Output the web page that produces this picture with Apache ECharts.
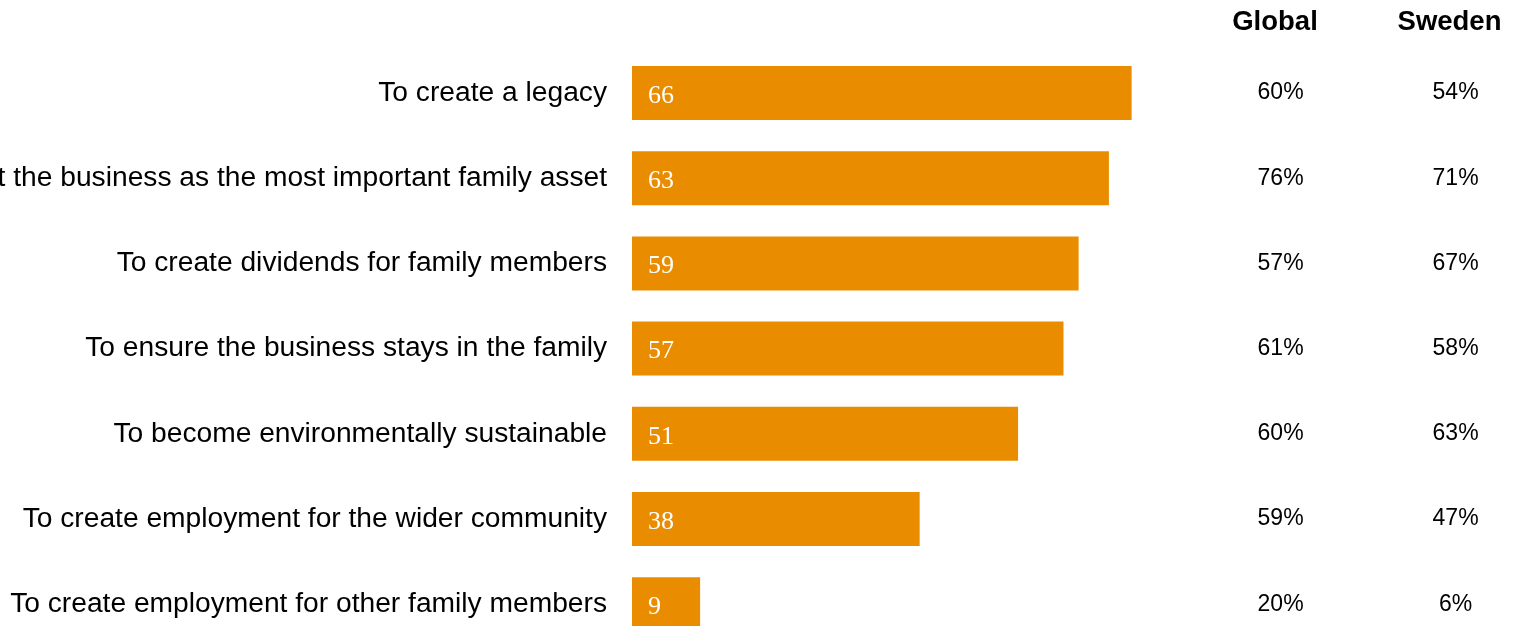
<!DOCTYPE html>
<html>
<head>
<meta charset="utf-8">
<script src="https://cdn.jsdelivr.net/npm/echarts@6/dist/echarts.min.js"></script>
<style>
  html, body { margin: 0; padding: 0; background: #fff; }
  #chart { width: 1515px; height: 626px; }
</style>
</head>
<body>
<div id="chart"></div>
<script>
// Reasons for family business ownership
const categories = [
  'To create a legacy',
  'To protect the business as the most important family asset',
  'To create dividends for family members',
  'To ensure the business stays in the family',
  'To become environmentally sustainable',
  'To create employment for the wider community',
  'To create employment for other family members'
];
const swedenNextGen = [66, 63, 59, 57, 51, 38, 9];
const globalPct = [60, 76, 57, 61, 60, 59, 20];
const swedenPct = [54, 71, 67, 58, 63, 47, 6];
const columnHeaders = ['Global', 'Sweden'];

const ORANGE = '#EA8C00';
const sans = '"Liberation Sans", Arial, sans-serif';

const chart = echarts.init(document.getElementById('chart'), null, { renderer: 'canvas' });

const gridLeft = 632;
const gridTop = 50.4;
const gridHeight = 596.4;
const xMax = 80;
const gridWidth = 605.6;

function sideAxis(values, offset) {
  return {
    type: 'category',
    data: values.map(v => v + '%'),
    inverse: true,
    position: 'right',
    offset: offset,
    axisLine: { show: false },
    axisTick: { show: false },
    axisLabel: {
      color: '#000',
      fontFamily: sans,
      fontSize: 23,
      align: 'center',
      margin: 43
    }
  };
}

chart.setOption({
  animation: false,
  backgroundColor: '#fff',
  grid: {
    left: gridLeft,
    top: gridTop,
    width: gridWidth,
    height: gridHeight,
    containLabel: false,
    outerBoundsMode: 'none'
  },
  xAxis: {
    type: 'value',
    min: 0,
    max: xMax,
    show: false
  },
  yAxis: [
    {
      type: 'category',
      data: categories,
      inverse: true,
      axisLine: { show: false },
      axisTick: { show: false },
      axisLabel: {
        color: '#000',
        fontFamily: sans,
        fontSize: 28.2,
        margin: 25
      }
    },
    sideAxis(globalPct, 0),
    sideAxis(swedenPct, 175)
  ],
  graphic: columnHeaders.map((h, i) => ({
    type: 'text',
    x: i === 0 ? 1275 : 1449.5,
    y: 22,
    style: {
      text: h,
      fill: '#000',
      font: 'bold 27.5px ' + sans,
      textAlign: 'center',
      textVerticalAlign: 'middle'
    }
  })),
  series: [
    {
      type: 'bar',
      yAxisIndex: 0,
      data: swedenNextGen,
      barWidth: 54,
      itemStyle: { color: ORANGE },
      label: {
        show: true,
        position: 'insideLeft',
        distance: 16,
        offset: [0, 3],
        color: '#fff',
        fontFamily: '"Liberation Serif", "DejaVu Serif", serif',
        fontSize: 26
      }
    }
  ]
});
</script>
</body>
</html>
